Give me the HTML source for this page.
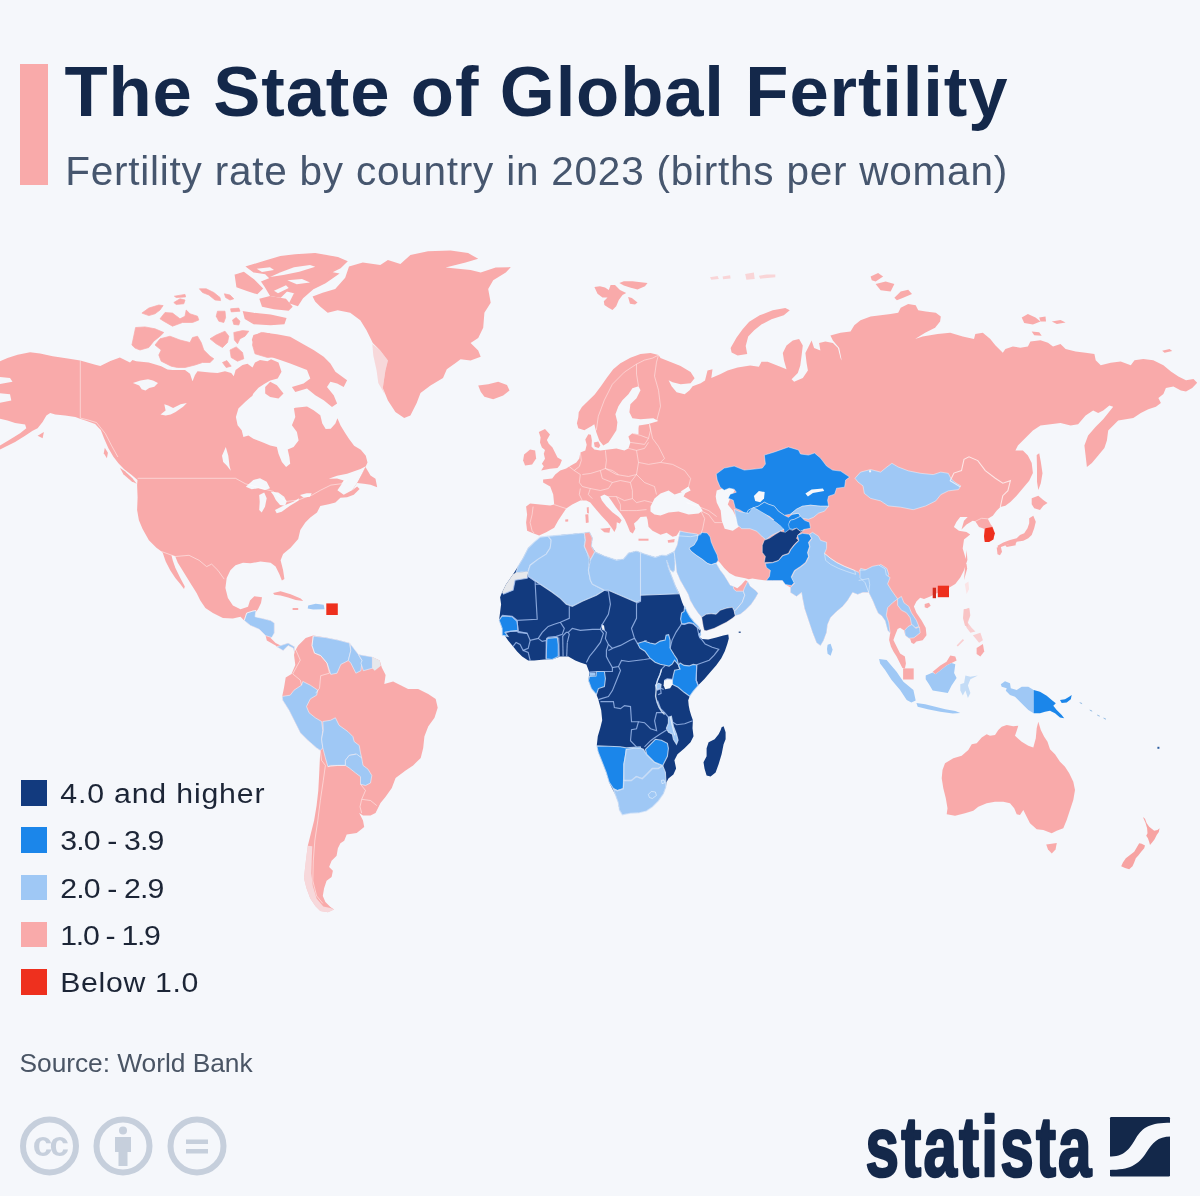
<!DOCTYPE html>
<html lang="en">
<head>
<meta charset="utf-8">
<title>The State of Global Fertility</title>
<style>
html,body{margin:0;padding:0;}
body{width:1200px;height:1196px;background:#f5f7fb;position:relative;overflow:hidden;font-family:"Liberation Sans",sans-serif;}
#bar{position:absolute;left:20px;top:64px;width:28px;height:121px;background:#f9aaaa;}
#map{position:absolute;left:0;top:0;width:1200px;height:1196px;}
.lg{position:absolute;left:21px;width:26px;height:25.5px;}
</style>
</head>
<body>
<svg id="map" viewBox="0 0 1200 1196" width="1200" height="1196">
<path fill="#f9aaaa" d="M-2.5,362.4L7.5,357.9L17.6,354.7L30.1,352.2L40.1,353.4L52.7,356.2L67.7,358.4L80.3,360.4L95.3,364.7L100.3,366L110.4,360.9L119.9,357.4L130,362.5L132.5,360L136.2,361.2L148.8,362.5L161.2,366.2L167.5,369.4L172.5,370L185,370L190,373.8L192.5,381.2L195,375L197.5,371.2L210,372.5L217.5,373.1L225,371.2L231.2,373.1L233.8,376.2L235.6,370L242.5,365L247.5,363.8L252.5,367.5L255,362.5L260,360L267.5,361.2L271,359.3L278.5,362.6L281.5,371.8L277.7,378.5L270.2,380.5L263.8,384.3L258.5,387.7L253.4,393.5L251.8,396.9L293.6,408.6L295.3,407.8L307,406.6L313.6,410.3L320.3,415.3L322.3,423.6L325.7,429L330.7,428.7L335.4,423.6L337.4,418.3L340.7,425.7L345.8,434L349.1,439L354.1,445.7L360.8,449.7L365.8,455.8L367.5,462.4L365.8,466.3L358.8,480.5L352.1,490.5L357.1,486.4L359.6,488.9L353.8,494.7L347.1,497.2L340.4,497.7L335.4,502.6L328.7,504.2L320.3,505.9L317,512.6L310.3,517.6L305.3,522.6L300.3,530L298.2,539L290.6,547.8L283.1,554L280.6,560.3L283.1,570.3L284.4,579.1L281.9,580.4L279.3,574.1L275.6,566.6L270.6,562.8L260.5,561.6L250.5,563.3L243,562.8L235.5,565.3L230.4,570.3L226.7,577.9L225.4,587.9L227.9,597.9L232.9,605.5L240.5,609.2L248,606.7L250,600.4L254.3,596.2L262,597.2L261,602.9L258,609.2L256,611.7L254.3,613L255.5,618L260.5,618L270.6,620.5L274.3,623L274.3,633L270.6,638.1L273.1,640.6L275.6,643.1L280.6,645.6L288.1,643.1L294.4,646.8L294.4,651.9L293.1,648.1L288.1,645.6L283.1,650.6L276.8,646.8L275.6,645.6L266.8,640.6L265.6,635.6L259.3,629.3L250.5,625.5L244.2,620.5L240.5,616.7L232.9,618.5L222.9,618L212.9,613L205.4,608L200.3,600.4L196.6,592.9L190.3,582.9L184,572.8L177.8,562.8L175.3,556.5L171.5,555.3L172.7,560.3L175.3,567.8L180.3,577.9L184.8,586.6L184,589.1L180.3,584.1L175.3,577.9L170.2,570.3L165.7,561.6L162.7,552.8L161.5,551.5L156.4,547.8L148.9,540.2L142.6,528.9L138.9,520.2L137.1,510.1L137.6,497.6L137.1,485.1L137.6,478.8L137.5,480.1L131.7,475.1L124.2,469.3L118.4,463.3L113.4,456.8L108.4,448.2L104.1,438.4L100.8,429.9L95.1,424.1L86.8,420.9L79.3,418.4L75.3,416.9L65.2,415.6L55.2,414.4L50.2,413.1L46.4,415.6L42.6,421.9L37.6,428.2L32.6,430.7L25.1,435.7L15.1,442L5,447L-2.5,450.7L-2.5,447L10,439.4L20.1,433.2L26.3,428.2L25.1,424.4L15.1,423.1L7.5,420.6L-2.5,418.1L-2.5,403.1L11.3,400.6L10,394.3L-2.5,393L-2.5,384.3L12.5,381.8L10,378L-2.5,376.7Z"/>
<path fill="#f5f7fb" d="M251.4,396.6L261.8,394.9L268.5,398.2L275.2,400.9L286.9,404.6L293.9,408.3L295.3,417L291.9,425.3L296.9,432L298.6,440.4L293.6,447.1L287.7,449.6L289.4,457.1L290.2,463.8L286.1,467.1L281.9,462.1L278.5,453.7L276.9,447.1L270.2,445.4L261.8,442L253.4,438.7L248.4,435.4L243.4,437L241.7,430.3L237.6,425.3L235.9,417L238.4,408.6L245.1,401.9Z"/>
<path fill="#f5f7fb" d="M365.8,466.3L360.5,469.1L347.1,473.8L337.1,475.8L328.7,478.8L337.1,478.5L343.7,480.5L340.7,485.5L337.4,490.2L343.7,494.7L352.1,490.2L358.8,480.5Z"/>
<path fill="#f5f7fb" d="M132.9,383L140.5,380.5L148,379.2L153,380.5L158,383L154.3,386.8L149.2,388L145.5,390.5L141.7,389.3L139.2,385.5Z"/>
<path fill="#f5f7fb" d="M160.5,414.4L165.6,410.6L164.3,404.3L168.1,405.6L173.1,408.1L180.6,404.3L186.9,403.1L183.1,406.8L175.6,411.9L170.6,414.4L165.6,415.6Z"/>
<path fill="#f5f7fb" d="M222,455.8L225.8,447L228.3,455.8L229.5,465.8L230.8,470.8L227,465.8L223.2,462Z"/>
<path fill="#f5f7fb" d="M245.8,486.7L253.3,480L260,478.3L266.7,481.7L270,488.3L265,490L258.3,488.3L251.7,489.2Z"/>
<path fill="#f5f7fb" d="M259.2,495L264.2,492.5L266.7,498.3L265,506.7L261.7,512.5L259.2,510L259.7,501.7Z"/>
<path fill="#f5f7fb" d="M270.8,491.7L278.3,492.5L284.2,496.7L286.7,501.7L285,505.8L280,505L275.8,500L273.3,495Z"/>
<path fill="#f5f7fb" d="M275,510L283.3,505.8L293.3,501.7L299.2,498.3L298.3,500.8L290,505.8L281.7,511.7L276.7,513.3Z"/>
<path fill="#f5f7fb" d="M300,495L306.7,493.3L311.7,493.3L310,496.7L303.3,497.5Z"/>
<path fill="#f9aaaa" stroke="#f9aaaa" stroke-width="0.72" d="M131.9,345L135.6,327.5L145,326.9L155,328.8L163.8,332.5L160,336.2L153.8,341.2L148.8,347.5L140,350L135,348.1Z"/>
<path fill="#f9aaaa" stroke="#f9aaaa" stroke-width="0.72" d="M155,345L160,338.8L170,336.2L180,340L190,342.5L192.5,337.5L197.5,336.2L201.2,342.5L203.8,350L210,356.2L213.8,358.8L210,362.5L202.5,362.5L195,365L185,367.5L177.5,367.5L171.2,366.2L161.2,361.2L158.8,355L161.2,350Z"/>
<path fill="#f9aaaa" stroke="#f9aaaa" stroke-width="0.72" d="M141.9,313.1L148.8,308.1L158.8,305L163.1,305.6L160,310L155,313.8L148.8,315.6Z"/>
<path fill="#f9aaaa" stroke="#f9aaaa" stroke-width="0.72" d="M160,318.8L165,312.5L172.5,313.1L180,318.8L185,316.2L186.2,310L190,313.8L197.5,316.2L198.8,320L192.5,322.5L182.5,322.5L172.5,326.2L163.8,321.2Z"/>
<path fill="#f9aaaa" stroke="#f9aaaa" stroke-width="0.72" d="M173.8,302.5L180,298.8L185,300L183.8,303.8L176.2,304.4Z"/>
<path fill="#f9aaaa" stroke="#f9aaaa" stroke-width="0.72" d="M174.4,296.2L185,294.4L185.6,296.9L176.2,297.5Z"/>
<path fill="#f9aaaa" stroke="#f9aaaa" stroke-width="0.72" d="M199.4,288.8L206.2,288.8L213.8,292.5L220,297.5L220.6,300.6L215,300L208.8,295L202.5,292.5Z"/>
<path fill="#f9aaaa" stroke="#f9aaaa" stroke-width="0.72" d="M224.4,293.8L230,295L233.8,298.8L230,300L225.6,297.5Z"/>
<path fill="#f9aaaa" stroke="#f9aaaa" stroke-width="0.72" d="M217.5,311.2L225,311.2L225.6,317.5L223.8,322.5L218.8,321.2L216.2,316.2Z"/>
<path fill="#f9aaaa" stroke="#f9aaaa" stroke-width="0.72" d="M232.5,320L236.2,317.5L240,321.2L238.8,325L233.8,324.4Z"/>
<path fill="#f9aaaa" stroke="#f9aaaa" stroke-width="0.72" d="M230.6,308.8L238.8,308.1L240,311.2L231.2,311.9Z"/>
<path fill="#f9aaaa" stroke="#f9aaaa" stroke-width="0.72" d="M210,338.8L216.2,335L225,331.2L228.8,336.2L227.5,342.5L222.5,347.5L216.2,343.8Z"/>
<path fill="#f9aaaa" stroke="#f9aaaa" stroke-width="0.72" d="M233.8,332.5L242.5,330.6L248.8,331.2L245,336.2L240,338.8L237.5,343.8L234.4,340Z"/>
<path fill="#f9aaaa" stroke="#f9aaaa" stroke-width="0.72" d="M230,350L236.2,346.9L242.5,352.5L243.8,358.8L237.5,361.2L231.2,357.5Z"/>
<path fill="#f9aaaa" stroke="#f9aaaa" stroke-width="0.72" d="M222.5,362.5L226.9,360.6L231.2,366.2L226.2,367.5Z"/>
<path fill="#f9aaaa" stroke="#f9aaaa" stroke-width="0.72" d="M253.8,336.2L261.2,332.5L270,333.8L267.5,340L265,345L268.8,350L273.8,355L280,356.2L267.5,357.5L255,353.8L252.5,345Z"/>
<path fill="#f9aaaa" stroke="#f9aaaa" stroke-width="1.5" d="M235.4,275.1L243.7,272.6L253.8,280.1L262.1,288.5L257.1,293.5L247.1,290.2L237.1,286.8Z"/>
<path fill="#f9aaaa" stroke="#f9aaaa" stroke-width="1.5" d="M243.7,311.9L253.8,313.6L270.5,315.3L285.6,318.6L283.9,323.6L270.5,324.4L253.8,323.6L245.4,318.6Z"/>
<path fill="#f9aaaa" stroke="#f9aaaa" stroke-width="1.5" d="M247.1,266.8L263.8,261.7L280.5,256.7L295.1,255.1L315.1,253.8L337.7,257.6L346.5,261.4L340.2,267.6L330.2,272.6L337.7,273.9L325.2,282.7L312.6,288.9L302.6,297.7L297.6,305.3L290,302.7L295.1,292.7L285,290.2L287.2,290.2L280.5,296.9L270.5,295.2L265.5,286.8L262.1,281.8L270.5,278.5L265.5,273.4L253.8,271.8Z"/>
<path fill="#f9aaaa" d="M253.4,335L263.5,332.5L276.9,334.2L290.2,336.7L300.3,342.5L313.6,350.1L323.7,356.8L330.4,363.4L335.4,371.8L347.1,380.2L343.7,386.9L337.1,383.5L330.4,381.8L327,386.9L333.7,395.2L337.1,403.6L332,406.9L323.7,400.2L315.3,395.2L307,388.5L295.3,391.9L291.9,386.9L303.6,383.5L310.3,378.5L307,370.1L298.6,366.8L290.2,363.4L280.2,360.1L270.2,356.8L261.8,351.7L255.1,346.7L251.8,340Z"/>
<path fill="#f9aaaa" d="M265.2,386.9L270.2,381.8L276.9,385.2L283.5,393.5L278.5,398.6L270.2,396.9L265.2,393.5Z"/>
<path fill="#f9aaaa" d="M365.5,467.1L370.5,475.5L375.5,478.8L377.2,487.2L370.5,484.7L363.8,483.8L357.1,483L362.1,473.8Z"/>
<path fill="#f9aaaa" d="M312.6,296.5L322.6,292.7L335.2,288.9L345.2,277.7L349,266.4L362.8,262.6L380.3,265.1L387.9,260.1L400.4,263.9L410.4,255.1L428,251.3L450.6,250.6L468.1,253.1L478.2,258.8L465.6,262.6L445.6,267.6L470.6,270.1L480.7,272.6L495.7,267.6L510.8,267.1L505.8,272.6L493.2,280.2L488.2,288.9L490.7,302.7L484.4,312.8L483.2,327.8L478.2,337.9L470.6,342.9L478.2,350.4L480.7,356.7L470.6,360.4L460.6,359.2L455.6,362.9L446.8,369.2L443,378L430.5,385.5L420.5,393L416.7,403.1L410.4,415.6L404.2,418.1L395.4,411.9L387.9,400.6L382.8,388L385.4,370.5L387.9,360.4L380.3,350.4L372.8,342.9L366.5,330.3L360.3,320.3L350.2,312.8L337.7,310.3L327.7,312.8L320.1,306.5L315.1,301.5Z"/>
<path fill="#f9aaaa" d="M478.2,385.5L488.2,384.3L498.2,381.8L507,385L509.5,390.5L503.2,395.6L493.2,399.3L484.4,396.8L480.7,391.8Z"/>
<path fill="#f9aaaa" d="M119.9,467.8L124.9,471.3L132.4,478.3L136.7,483.8L131.4,481.3L123.4,474.3Z"/>
<path fill="#f9aaaa" d="M104.8,447.7L107.9,452.7L106.9,458.3L103.8,453.2Z"/>
<path fill="#f9aaaa" d="M37.6,435.7L43.9,431.9L42.6,438.2Z"/>
<path fill="#f9aaaa" d="M273.1,592.9L280.6,591.2L290.6,594.2L300.7,598.4L303.2,600.9L295.7,599.9L288.1,597.4L280.6,595.4L274.3,594.7Z"/>
<path fill="#9fc8f5" d="M308.2,605.5L315.7,603.7L323.7,604.7L324.5,609.2L313.2,609.5L307.7,608.5Z"/>
<path fill="#f9aaaa" d="M292.6,608L298.2,608L298.2,610L292.6,610Z"/>
<path fill="#ee301e" d="M326.3,603.4L337.8,603.4L337.8,615L326.3,615Z"/>
<path fill="#9fc8f5" stroke="#eef2fa" stroke-width="0.6" d="M244.2,620.5L246.7,613L253,611L256,610.5L255,616.7L260.5,618L270.6,620.5L274.3,623L274.3,633L271.8,637.6L265.6,635.6L259.3,629.3L250.5,625.5Z"/>
<path fill="#9fc8f5" stroke="#eef2fa" stroke-width="0.6" d="M276.8,646.8L280.6,645.6L288.1,643.1L294.4,646.8L294.4,651.9L293.1,648.1L288.1,645.6L283.1,650.6Z"/>
<path fill="#f9aaaa" d="M294.4,651.9L298.2,645.6L305.7,638.1L313.2,635.6L325.8,637.6L338.3,640.1L349.6,643.1L358.4,654.4L372.2,656.9L379.7,660.6L381.8,667.6L385.6,675.1L384.3,683.9L393.1,681.4L400.6,685.2L408.1,688.9L418.2,688.9L428.2,693.9L435.7,698.9L437.7,707.7L434.5,717.8L428.2,726.5L424.4,736.6L423.2,747.9L420.7,757.9L413.1,765.4L405.6,770.4L395.6,778L391.8,788L385.6,796.8L380.5,803L375.5,813.1L370.5,815.6L363,815.6L359.2,813.1L363,820.6L364.2,826.9L356.7,833.1L346.7,834.4L344.2,840.7L340.4,843.2L337.9,848.2L336.6,855.7L331.6,860.7L329.1,867L332.9,870.8L331.6,877L326.6,880.8L324.1,888.3L322.8,895.9L325.4,902.1L330.4,907.1L334.1,909.6L327.9,912.2L320.3,910.9L315.3,905.9L310.3,898.4L306.5,888.3L304,878.3L305.3,865.8L306.5,855.7L307.8,845.7L310.3,835.7L314.1,820.6L316.6,805.6L318.3,790.5L319.1,775.5L319.8,760.4L320.3,750.4L316.6,747.9L307.8,740.3L300.3,732.8L295.3,722.8L289,710.2L282.7,700.2L282.2,696.4L284,687.7L285.7,677.6L291.5,673.9L295.3,665.1L294,655.1L295.3,648.8Z"/>
<path fill="#9fc8f5" stroke="#eef2fa" stroke-width="0.6" d="M313.2,636.1L325.8,637.6L338.3,640.1L349.6,643.1L350.8,650.6L348.3,660.6L340.8,664.4L337,673.2L330.8,674.4L327,663.1L320.7,655.6L314.5,653.1L312,645.6Z"/>
<path fill="#9fc8f5" stroke="#eef2fa" stroke-width="0.6" d="M350.1,643.6L358.4,654.4L362.1,660.6L360.9,670.7L355.9,673.2L350.8,663.1L348.3,660.6L350.8,650.6Z"/>
<path fill="#9fc8f5" stroke="#eef2fa" stroke-width="0.6" d="M358.6,654.6L372.4,656.9L372.4,668.2L363.4,670.7L360.9,663.1L362.1,660.6Z"/>
<path fill="#e6e8ec" d="M372.4,656.9L379.7,660.6L380.9,665.7L374.7,670.7L372.4,668.2Z"/>
<path fill="#9fc8f5" stroke="#eef2fa" stroke-width="0.6" d="M282.2,696.4L290.2,695.2L294,690.2L301.5,685.2L302.8,681.4L310.3,685.2L317.8,690.2L316.6,695.2L310.3,698.9L306.5,706.5L309,712.7L315.3,717.8L321.6,721.5L322.8,730.3L321.6,739.1L322.8,747.9L320.3,750.4L316.6,747.9L307.8,740.3L300.3,732.8L295.3,722.8L289,710.2L282.7,700.2Z"/>
<path fill="#9fc8f5" stroke="#eef2fa" stroke-width="0.6" d="M322.8,721.5L330.4,720.3L335.4,717.8L339.1,725.3L347.9,731.6L352.9,736.6L354.2,741.6L359.2,745.4L360.5,752.9L361.7,757.9L355.5,754.1L349.2,755.4L345.4,760.4L345.4,765.4L337.9,765.4L330.4,765.4L327.9,766.7L325.4,757.9L322.8,747.9L321.6,739.1L323.3,730.3Z"/>
<path fill="#9fc8f5" stroke="#eef2fa" stroke-width="0.6" d="M345.4,760.4L349.2,755.4L356.7,754.1L361.7,757.9L363,765.4L368,769.2L371.8,775.5L370.5,783L365.5,785.5L360.5,784.2L360.5,776.7L355.5,772.9L349.2,767.9L345.4,765.4Z"/>
<path fill="rgba(245,247,251,0.6)" d="M304,878.3L305.3,865.8L306.5,855.7L307.8,845.7L312.3,846.2L311.8,858.2L311.3,873.3L312.8,885.8L316.6,898.4L323.3,906.4L330.4,907.9L334.1,909.6L327.9,912.2L320.3,910.9L315.3,905.9L310.3,898.4L306.5,888.3Z"/>
<path fill="rgba(249,170,170,0.4)" d="M372.3,344.1L380.3,350.4L387.9,360.4L385.4,370.5L382.8,388L384.8,394.3L378.3,383L376.6,370.5L373.3,355.4Z"/>
<path fill="#f9aaaa" d="M259.3,298.7L270,296L286,298.7L292.7,306.7L288.7,310.7L274,309.3L262,306.7Z"/>
<path fill="#f5f7fb" d="M294,267.3L310,265.1L315.3,266.7L299.3,271.7L283.3,274.9L270,277.1L280.7,272.3Z"/>
<path fill="#f5f7fb" d="M287.3,280.3L302,278.9L310,282.4L296.7,284.3Z"/>
<path fill="#f5f7fb" d="M256.7,268.7L270,267.3L274,270L262,272Z"/>
<path fill="#f5f7fb" d="M274,290.7L286,285.3L288.7,288L278,293.3Z"/>
<path fill="#f9aaaa" d="M539.1,535.5L533.1,533.3L527.1,530.7L526.1,522.6L527.1,514.6L526.1,506.6L530.1,503.6L540.1,504.6L550.2,505.6L554.2,504.6L553.2,494.5L550.2,486.5L543.1,482.5L543.1,479.5L552.2,478.5L555.2,474.5L560.2,470.5L566.2,468.5L569.2,466.5L576.3,462.4L579.3,458.4L580.3,452.4L585.3,450.4L586.7,444.8L585.3,439.4L588.3,434.3L590.9,434.7L591.9,440.4L591.5,446.4L594.3,449.6L600.3,450.4L608.4,449.4L616.4,448.4L624.4,450.4L628.4,448.4L630.4,442.4L628.4,436.4L632.4,433.3L638.5,434.3L638.5,428.3L638.9,425.5L648.5,423.9L658.3,420.9L653.3,418.3L640.5,419.3L632.4,418.3L629.4,412.3L630.4,404.2L636.5,398.2L640.5,390.2L638.5,386.2L632.4,388.2L628.4,394.2L622.4,400.2L618.4,406.3L615.4,414.3L617.4,422.3L616.4,430.3L612.4,436.4L608.4,442.4L603.3,445.4L599.3,440.4L596.3,432.3L594.3,424.3L591.3,426.3L584.3,430.3L578.3,428.3L576.9,423.3L578.3,417.3L578.7,412.3L581.9,407.1L588.3,400.8L594.7,394.6L600.9,386.2L607,377.4L613.2,369.3L620.4,363.3L630.4,357.7L640.5,354.1L650.5,353.1L658.5,355.1L660.5,358.1L670.6,362.1L680.6,366.1L690.6,372.1L694.6,378.2L690.6,383.2L680.6,384.2L672.6,382.2L668.6,380.2L671.6,386.2L676.6,392.2L684.6,394.2L689.6,390.2L692.6,386.2L700.7,383.2L705,380.5L707.5,370.5L712.5,369.2L711.3,378L720.1,374.2L727.6,370.5L737.6,367.5L750.2,365.5L758.9,366.7L761.5,361.7L767.7,361.7L780.3,366.7L786.5,369.2L784,360.4L782.8,352.9L786.5,345.4L792.8,340.4L799.1,339.1L802.8,345.4L801.6,355.4L800.3,365.5L797.8,373L791.6,379.2L794.1,381.8L802.8,378L807.9,370.5L806.6,362.9L805.4,352.9L807.9,347.9L811.6,340.4L814.1,347.9L820.4,350.4L819.1,342.9L825.4,341.6L832.9,342.9L838,347.9L840.5,357.9L841.7,360.4L839.2,347.9L832.9,340.4L830.4,335.4L840.5,332.8L850.5,331.6L854.3,325.3L860.5,320.3L870.6,316.5L880.6,315.3L890.6,314L898.2,312.8L900.7,307.8L908.2,304L915.7,305.3L918.2,310.3L925.8,311.5L935.8,312.8L940.8,316.5L940.1,321.4L935.1,327.7L925.1,332.7L915.1,338.9L907.5,341.5L922.6,336.4L937.6,333.9L950.2,332.7L962.7,336.4L974,338.9L975.3,333.9L982.8,332.7L990.3,338.9L995.3,345.2L1002.8,352.7L1005.4,349L1012.9,346.5L1020.4,347.7L1027.9,346.5L1030.4,341.5L1040.5,340.2L1048,342.7L1053,346.5L1060.5,344L1065.6,349L1075.6,351.5L1085.6,352.7L1094.4,354L1095.7,360.3L1100.7,365.3L1110.7,362.8L1120.7,361.5L1130.8,365.3L1134.5,360.3L1143.3,359L1153.3,360.3L1163.4,365.3L1170.9,371.6L1178.4,376.6L1186,380.3L1193.5,379.1L1197.2,382.8L1192.2,387.9L1186,391.6L1180.9,390.4L1173.4,386.6L1165.9,387.9L1163.4,394.1L1158.4,397.9L1160.9,402.9L1155.9,406.7L1148.3,409.2L1140.8,412.9L1133.3,418L1125.8,419.2L1118.2,420.5L1113.2,425.5L1108.2,430.5L1106.9,440.5L1104.4,448.1L1098.2,455.6L1091.9,463.1L1086.9,466.9L1085.6,455.6L1084.4,445.6L1088.1,435.5L1095.7,426.7L1103.2,419.2L1108.2,412.9L1113.2,406.7L1109.4,405.4L1103.2,410.4L1098.2,412.9L1093.1,410.4L1085.6,415.5L1078.1,424.2L1070.6,425.5L1060.5,423L1050.5,424.2L1040.5,425.5L1032.9,430.5L1025.4,438L1017.9,445.6L1015.4,450.6L1022.9,450.6L1027.9,455.6L1031.7,463.1L1032.9,473.1L1029.2,480.7L1022.9,488.2L1016.6,495.7L1010.4,502L1005.4,505.8L1000.3,507L996.6,510.8L992.8,515.8L987.8,518.8L990.8,524.6L992.8,527.1L994.8,533.3L993.3,539.6L989,542.1L984.8,542.1L984,535.9L984,528.8L979,527.1L975.3,521.3L972.7,520.8L966.5,524.6L961.5,529.6L964,520.8L967.7,517L960.2,517L956.4,522.1L953.9,527.1L958.9,530.8L966.5,532.1L970.2,534.6L964,539.6L962.7,548.4L965.7,558.4L967.2,568.5L964,580L966.6,550L967.4,560.1L964.1,570.1L960.3,577.6L955.3,583.9L949,587.7L935.3,593.9L930.2,596.4L924,598.9L920.2,597.7L916.4,601.5L913.9,606.5L916.4,612.7L921.5,620.3L925.7,627.8L926.5,635.3L922.7,640.3L916.4,641.6L913.9,644.1L911.4,642.8L910.2,639.1L906.4,636.6L905.2,635.3L903.9,630.3L900.1,627.8L897.6,629L895.1,635.3L893.4,640.1L896.6,646.6L900.1,653.4L904.9,656.6L905.9,663.4L904.9,668.4L902.4,667.9L900.1,663.4L896.6,656.6L893.4,651.6L890.9,646.6L889.1,640.1L890.1,633.3L887.6,630.3L885.1,620.8L881.6,615.8L878.1,613.2L875.6,607.7L872.5,600.2L868.8,592.7L862.7,592.5L857.7,594.5L852.6,592.5L847.6,600.5L842.6,606.6L836.6,611.6L830.6,617.6L827.6,624.6L826.6,632.6L823.5,640.7L820.5,645.7L816.5,642.7L812.5,632.6L808.5,620.6L804.5,608.6L802.5,598.5L801.5,592.5L796.5,596.5L790.4,592.5L790.4,587.5L785.4,584.5L782.4,580.5L772.4,580.5L766.4,580.5L758.3,579.5L752.3,578.5L748.8,579.2L745.3,578.2L740.3,577.2L735.3,576.2L729.3,573.1L724.2,568.1L720.2,563.1L718.2,561.1L716.2,563.1L720.2,570.1L724.2,575.2L727.3,580.2L730.3,585.2L733.3,586.2L737.3,588.2L741.3,584.7L745.3,580.2L747.8,581.2L750.3,586.2L755.4,590.2L758.2,593.2L755.4,598.2L751.3,604.2L745.3,610.3L740.3,614.3L735.3,615.8L732.3,618.3L726.3,622.3L720.2,625.3L714.2,628.3L706.2,630.8L704.2,630.3L703.2,626.3L701.7,617.3L698.2,613.3L694.1,607.3L690.1,600.2L688.1,594.2L684.1,587.2L680.1,580.2L676.6,572.1L675.9,565.1L675.1,559.1L674.1,551.6L677.1,545.1L678.1,540L679.1,535L680.1,530L676.6,535.7L672.6,536.7L666.6,532.7L660.5,534.7L652.5,530.7L648.5,526.7L647.5,519.6L646.5,516.6L640.5,517L637.5,520.6L634,523.6L635.3,528.7L632.8,533.5L630,531.7L627.6,525.7L624.8,519.6L620.8,513.6L616,507.6L611.6,501L608.4,496.6L604.3,494.5L600.3,496.6L601.9,500.6L606.4,506.2L612.4,512.2L618.8,517L621.6,520.2L619.8,523.4L616.8,522.2L616.4,527.7L614.4,531.9L611.6,527.7L607.6,522.2L601.9,516.2L596.7,510.2L592.7,505.6L590.3,502.6L586.3,500.6L580.3,500.6L572.2,504.6L566.2,508.6L562.2,514.6L558.2,520.6L554.2,527.7L546.2,532.3Z"/>
<path fill="#f5f7fb" d="M650.5,506.6L654.5,498.6L660.5,493.5L668.6,490.5L674.6,494.5L680.6,492.5L686.6,490.5L683.6,496.6L690.6,500.6L698.7,504.6L702.7,510.6L698.7,513.6L688.6,514.6L678.6,511.6L668.6,512.6L660.5,515.6L654.5,514.6L650.5,511.6Z"/>
<path fill="#f5f7fb" d="M680.6,491.5L688.6,486.5L690.6,490.5L684.6,493.5Z"/>
<path fill="#f5f7fb" d="M716.7,490.5L722.7,488.5L730.8,487.5L734.8,490.5L730.8,496.6L727.8,504.6L732.8,510.6L736.8,518.6L738.8,526.7L732.8,530.7L724.7,528.7L721.7,520.6L720.7,510.6L716.7,502.6L715.7,496.6Z"/>
<path fill="#f9aaaa" d="M538.8,431.9L545,429L550,434.4L546.9,440L548.8,443.8L552.5,447.5L555,452.5L557.5,457.5L561.9,460L560,465L557.5,468.1L550,468.8L541.2,470.6L543.8,466.2L541.9,463.8L545,458.8L543.8,453.8L545,450L541.9,447.5L540,442.5L540.6,437.5Z"/>
<path fill="#f9aaaa" d="M524.1,454.4L530.1,449.4L535.1,450.4L536.1,458.4L532.1,464.4L525.1,465.5L523.1,460.4Z"/>
<path fill="#f9aaaa" d="M585.3,514.6L588.3,514.2L588.7,522.6L585.9,523Z"/>
<path fill="#f9aaaa" d="M586.7,507.6L588.7,507L588.9,513.6L587.1,513Z"/>
<path fill="#f9aaaa" d="M600.3,528.7L610.4,527.7L609.4,532.7L604.3,532.3Z"/>
<path fill="#f9aaaa" d="M638.5,538.7L648.5,538.7L648.5,540.7L638.5,540.7Z"/>
<path fill="#f9aaaa" d="M667.6,540.3L674.6,539.1L674.2,542.3L668.2,542.7Z"/>
<path fill="#f9aaaa" d="M565.2,519.6L568.2,519.2L568.2,521.6L565.4,521.8Z"/>
<path fill="#f9aaaa" d="M730.6,347.9L736.6,337.4L742.6,329.3L749.2,321.8L759.7,315.3L772.7,310.3L785.3,308L789.8,310.3L783.8,315.3L771.5,319.3L761.7,324.3L754.2,330.3L748.2,336.4L745.7,345.9L747.2,353.9L737.6,355.4L731.6,352.4Z"/>
<path fill="#f9aaaa" d="M870.6,276.4L878.1,273.1L883.1,276.4L875.6,281.4L871.8,280.2Z"/>
<path fill="#f9aaaa" d="M875.6,283.9L885.6,281.4L894.4,283.9L890.6,291.5L880.6,290.2Z"/>
<path fill="#f9aaaa" d="M894.4,297.7L900.7,291.5L908.2,289.7L912,294L903.2,297.7L896.9,300.2Z"/>
<path fill="#f9d5d7" d="M710,277.2L717.6,275.9L718.8,278.9L711.3,279.7Z"/>
<path fill="#f9d5d7" d="M722.6,276.4L730.1,275.2L730.6,278.4L723.1,279.2Z"/>
<path fill="#f9d5d7" d="M745.2,273.9L753.9,272.6L754.7,278.9L746.4,279.7Z"/>
<path fill="#f9d5d7" d="M758.9,275.7L766.5,274.6L775.3,274.6L775.3,277.2L760.2,278.7Z"/>
<path fill="#f9aaaa" d="M1021.7,317.6L1027.9,313.9L1035.5,317.6L1040.5,321.4L1032.9,324.6L1024.2,323.1Z"/>
<path fill="#f9aaaa" d="M1039.2,317.6L1045.5,316.4L1046,321.4L1040.5,321.4Z"/>
<path fill="#f9aaaa" d="M1051.8,321.4L1060.5,320.1L1065.6,322.6L1056.8,323.9Z"/>
<path fill="#f9aaaa" d="M1031.7,331.4L1039.2,332.2L1041.7,335.7L1034.2,335.2Z"/>
<path fill="#f9aaaa" d="M1162.1,350.7L1169.6,349L1172.2,351L1164.6,352.7Z"/>
<path fill="#ee301e" d="M985.3,528.3L992.3,527.1L994.8,533.3L993.3,539.6L989,542.1L984.8,542.1L984,535.9Z"/>
<path fill="#f9aaaa" d="M593.9,442.4L598.3,441.6L600.3,445.4L598.7,448L594.7,446.8Z"/>
<path fill="#f9aaaa" d="M594.4,286.9L600,286.2L605,287.5L608.8,290L610.6,285L615,285L620,290L626.2,293.1L622.5,295L618.8,300L616.2,306.2L612.5,310L608.1,307.5L604.4,305L603.8,301.2L607.5,297.5L602.5,297.5L597.5,293.8Z"/>
<path fill="#f9aaaa" d="M619.4,283.1L623.8,281.2L632.5,281.2L638.8,281.9L647.5,283.1L645,286.2L637.5,289.4L630,287.5L623.8,285.6Z"/>
<path fill="#f9aaaa" d="M628.1,296.9L631.9,298.1L637.5,302.5L635,304.4L630,303.8Z"/>
<path fill="#f9aaaa" d="M1029.2,518.3L1033.3,515.8L1035.8,521.7L1034.2,528.3L1031.7,535L1028.3,538.3L1023.3,540.8L1016.7,541.7L1015,545L1008.3,544.2L1001.7,546.7L998.3,548.3L997.5,545.8L1003.3,542.5L1010,540L1016.7,538.3L1020,535L1024.2,533.3L1027.5,528.3L1029.2,523.3Z"/>
<path fill="#f9aaaa" d="M1031.7,498.3L1038.3,495.8L1043.3,500L1047.5,503L1043.3,505.8L1040,510L1034.2,508.3L1031.7,504.2Z"/>
<path fill="#f9aaaa" d="M996.7,547.5L1000.8,546.7L1002,551.7L1000,555.3L997.5,554.2Z"/>
<path fill="#f9aaaa" d="M1005,544.7L1015,543L1015.8,545.3L1006.7,547Z"/>
<path fill="#f9aaaa" d="M1036.7,455L1039.2,453.3L1040.8,461.7L1042.5,473.3L1040.8,483.3L1038.3,490L1037,481.7L1037,468.3Z"/>
<path fill="#123a7e" d="M540.2,538.5L548.2,536.5L560.3,535.1L572.3,534L584.3,533L589.4,532L592.4,538.1L591.4,546.1L595.4,552.1L604.4,556.1L616.5,560.1L623.5,559.1L628.5,553.1L636.5,551.1L644.5,554.1L654.6,557.1L656,557.1L662,555.1L666.1,555.6L670.1,553.6L674.1,551.6L675.1,559.1L674.6,570.1L673.1,572.1L670.1,569.6L668.1,564.1L666.6,560.1L668.6,568.1L672.1,577.2L675.6,586.2L679.1,593.2L682.1,602.2L685.1,609.3L684.6,606L687.2,612L690.2,617.1L694.2,622.1L698.2,626.1L700.7,630.1L700.2,634.1L699.2,637.1L702.2,639.1L708.2,639.6L716.3,637.6L723.3,635.6L728.3,634.6L728.8,638.6L727.3,644.1L724.8,651.2L721.3,658.2L716.3,665.2L710.2,672.2L704.2,679.3L698.2,685.3L693.2,691.3L689.7,696.3L688.2,700.3L688.7,705.4L689.7,710.4L691.2,715.4L692.9,720.2L692.5,728.2L693.5,736.3L690.5,742.3L684.5,748.3L677.5,754.3L674.4,760.3L676.1,768.4L673.4,774.4L668.4,778.4L666.4,782.4L666,786.4L663.4,793.4L658.4,800.5L652.4,806.5L646.4,810.5L638.3,812.5L630.3,812.9L622.3,814.5L619.3,809.5L618.3,802.5L615.3,794.4L612.2,788.4L609.2,782.4L606.2,772.4L602.2,762.3L598.2,752.3L596.8,745.3L597.8,736.3L600.2,728.2L602.2,720.2L601.2,710.2L598.2,699.1L596.4,694.6L591.4,688.6L588.4,680.5L589.4,672.5L586.4,664.5L580.3,662.5L575.3,660.5L568.3,656.5L560.3,656.5L552.2,659.5L544.2,659.5L534.2,660.5L528.2,660.5L522.1,656.5L517.1,651.4L513.1,646.4L508.1,640.4L504.1,634.4L502.1,628.4L499.1,620.3L500.1,612.3L501.1,604.3L500.1,597.3L502.1,592.2L506.1,584.2L513.1,574.2L518.1,566.2L523.1,558.1L528.2,548.1L534.2,542.5Z"/>
<path fill="#9fc8f5" stroke="rgba(215,230,250,0.8)" stroke-width="1.08" d="M540.2,537.1L548.2,536.1L551.2,540.1L550.2,548.1L546.2,554.1L538.2,559.1L530.2,565.2L528.2,571.2L520.1,572.2L516.1,572.6L518.1,566.2L523.1,558.1L528.2,548.1L534.2,542.1Z"/>
<path fill="#e6e8ec" d="M516.1,572.6L528.2,571.8L527.2,578.2L515.1,580.2L513.1,590.2L503.1,594.2L502.1,592.2L506.1,584.2L513.1,574.2Z"/>
<path fill="#9fc8f5" stroke="rgba(215,230,250,0.8)" stroke-width="1.08" d="M551.2,540.1L548.2,536.1L560.3,535.1L572.3,534L584.3,533L585.4,540.1L584.3,546.1L587.4,553.1L589.4,560.1L588.4,570.2L590.4,580.2L592.4,584.2L604.4,590.2L596.4,595.3L582.3,601.3L572.3,606.3L566.3,604.3L560.3,598.3L552.2,592.2L540.2,584.2L528.2,576.2L528.2,571.2L530.2,565.2L538.2,559.1L546.2,554.1L550.2,548.1Z"/>
<path fill="#f9aaaa" stroke="rgba(215,230,250,0.8)" stroke-width="1.08" d="M584.3,533L589.4,532L592.4,538.1L591.4,546.1L594.8,552.1L590.4,560.1L587.4,553.1L584.3,546.1L585.4,540.1Z"/>
<path fill="#9fc8f5" stroke="rgba(215,230,250,0.8)" stroke-width="1.08" d="M594.8,552.1L604.4,556.1L616.5,560.1L623.5,559.1L628.5,553.1L636.5,551.1L640.5,552.5L640.5,600.3L636.5,602.3L608.4,590.2L604.4,590.2L592.4,584.2L590.4,580.2L588.4,570.2L590.4,560.1Z"/>
<path fill="#9fc8f5" stroke="rgba(215,230,250,0.8)" stroke-width="1.08" d="M640.5,552.5L644.5,554.1L654.6,557.1L656,557.1L662,555.1L666.1,555.6L670.1,553.6L674.1,551.6L675.1,559.1L674.6,570.1L673.1,572.1L670.1,569.6L668.1,564.1L666.6,560.1L668.6,568.1L672.1,577.2L675.6,586.2L679.1,593.7L640.5,595.3Z"/>
<path fill="#1b86ea" stroke="rgba(215,230,250,0.8)" stroke-width="1.08" d="M499.1,620.3L502.1,615.9L512.1,616.7L517.1,621.3L518.1,630.4L510.1,631.4L505.1,632.4L508.1,636.4L502.1,635.4L502.1,628.4Z"/>
<path fill="#1b86ea" stroke="rgba(215,230,250,0.8)" stroke-width="1.08" d="M546.8,638.4L557.3,637.4L558.3,644.4L558.3,656.5L552.2,659.5L546.2,658.9Z"/>
<path fill="#1b86ea" stroke="rgba(215,230,250,0.8)" stroke-width="1.08" d="M637.5,643.4L640.5,642.4L646.6,640.8L644,641.1L650,643.1L655.1,644.1L660.1,641.1L665.1,640.1L666.1,635.1L668.6,634.6L670.1,640.1L670.1,648.2L674.1,654.7L677.1,659.2L679.6,669.2L678.6,665.2L674.6,660.2L672.1,664.2L669.1,666.2L665.1,665.2L660.1,664.2L655.1,662.2L650,658.2L645,651.2L640,648.2Z"/>
<path fill="#1b86ea" stroke="rgba(215,230,250,0.8)" stroke-width="1.08" d="M681.6,613L684.1,611.5L684.6,606L687.2,612L690.2,617.1L694.2,622.1L698.2,626.1L700.2,630.1L697.2,627.1L693.2,623.6L689.2,622.6L684.1,624.1L681.6,623.6L680.6,619.1Z"/>
<path fill="#9fc8f5" d="M698.2,634.1L700.7,632.1L701.2,635.1L699.2,637.6Z"/>
<path fill="#1b86ea" stroke="rgba(215,230,250,0.8)" stroke-width="1.08" d="M673.1,676.3L674.6,670.2L680.1,669.2L678.6,665.2L680.1,663L684.1,665.4L689.2,665.9L693.2,664.4L696.7,664.9L696.2,680.3L698.2,685.5L693.2,691.3L689.7,696.3L684.1,692.3L678.1,687.3L672.1,684.3L672.6,679.3Z"/>
<path fill="#1b86ea" stroke="rgba(215,230,250,0.8)" stroke-width="1.08" d="M589.4,676.5L596,676.1L596.4,671.5L604.4,671.5L605.4,678.5L604.4,686.6L598.4,688.6L596.4,694.6L591.4,688.6L588.4,680.5Z"/>
<path fill="#9fc8f5" d="M589.4,672.5L595.4,672.5L595.4,675.7L589.4,676.1Z"/>
<path fill="#f5f7fb" d="M601.4,624.3L604,625.4L604.8,630.4L602.4,630Z"/>
<path fill="#f5f7fb" d="M664.1,680.3L667.1,678.8L672.1,679.3L672.6,684.3L670.1,688.3L665.1,689.3L663.6,685.3Z"/>
<path fill="#9fc8f5" stroke="rgba(215,230,250,0.8)" stroke-width="1.08" d="M655.6,685.3L658.6,683.3L661.1,684.3L660.6,688.3L657.1,689.8Z"/>
<path fill="#1b86ea" stroke="rgba(215,230,250,0.8)" stroke-width="1.08" d="M596.8,745.9L608.2,746.3L620.3,746.7L626.3,747.9L640.3,746.9L640.7,748.3L626.3,749.5L625.3,756.3L623.9,764.3L623.3,788.4L617.3,790.4L613.2,788.4L609.2,782.4L606.2,772.4L602.2,762.3L598.2,752.3Z"/>
<path fill="#9fc8f5" stroke="rgba(215,230,250,0.8)" stroke-width="1.08" d="M626.3,749.5L634.3,748.3L640.7,748.3L643.3,749.3L646.4,754.3L650.4,758.3L654.4,762.3L662.4,765.4L658.4,768.4L652.4,768.4L646.4,774.4L642.3,778.4L636.3,776.4L631.3,780.4L626.3,780.4L623.9,780.4L623.9,764.3L625.3,756.3Z"/>
<path fill="#9fc8f5" stroke="rgba(215,230,250,0.8)" stroke-width="1.08" d="M613.2,788.8L617.3,790.8L623.3,788.8L623.9,780.4L626.3,780.8L631.3,780.8L636.3,776.8L642.3,778.8L646.4,774.8L652.4,768.8L658.4,768.8L662.8,765.8L665.4,772.4L666,782.4L666,786.8L663.4,793.8L658.4,800.9L652.4,806.9L646.4,810.9L638.3,812.9L630.3,813.3L622.3,814.9L619.3,809.9L618.3,802.9L615.3,794.8Z"/>
<path fill="#1b86ea" stroke="rgba(215,230,250,0.8)" stroke-width="1.08" d="M645.4,749.3L649.4,745.3L655.4,739.3L661.4,740.3L667.4,743.3L668.4,748.3L667.4,756.3L662.8,765.4L654.8,762.3L650.8,758.3L646.8,754.3Z"/>
<path fill="#9fc8f5" stroke="rgba(215,230,250,0.8)" stroke-width="1.08" d="M668.4,717.2L671.4,716.2L673.4,726.2L676.5,734.2L678.1,740.3L676.5,744.3L673.4,739.3L672.4,734.2L668.4,732.2L666.4,728.2L668.4,723.2Z"/>
<path fill="#123a7e" d="M721.6,727.2L723.6,726.2L725.6,732.2L725.6,739.3L723.6,744.3L721.6,754.3L718.6,764.3L715.6,772.4L710.6,776.4L706.6,775.4L704.5,768.4L703.5,762.3L706.6,756.3L706.6,748.3L708.6,742.3L714.6,739.3L718.6,734.2L720.6,730.2Z"/>
<path fill="#123a7e" d="M738.7,631.6L740.7,631.6L740.7,632.8L738.7,632.8Z"/>
<path fill="#9fc8f5" stroke="rgba(255,255,255,0.55)" stroke-width="0.78" d="M674.1,551.6L677.1,545.1L678.1,540L679.1,535L680.1,531L684.1,532L690.1,533L697.2,534L698.2,535L697.2,540L694.1,545.1L689.1,548.1L691.1,551.1L696.2,555.1L702.2,559.1L707.2,563.1L711.2,564.6L715.2,563.1L716.2,563.1L720.2,570.1L724.2,575.2L727.3,580.2L730.3,585.2L733.3,586.2L733.8,589.2L736.3,591.2L742.3,591.2L743.3,591.2L744.8,595.2L742.3,602.2L737.3,608.3L734.3,611.3L732.3,607.3L726.3,608.3L720.2,610.3L716.2,614.3L711.2,613.8L706.2,614.3L701.7,617.3L698.2,613.3L694.1,607.3L690.1,600.2L688.1,594.2L684.1,587.2L680.1,580.2L676.6,572.1L675.9,565.1L675.1,559.1Z"/>
<path fill="#1b86ea" stroke="rgba(255,255,255,0.55)" stroke-width="0.78" d="M689.1,548.1L694.1,545.1L697.2,540L698.2,535L702.2,532.5L707.2,533L710.2,537L711.2,542L714.2,549.1L717.2,555.1L718.2,560.1L716.2,563.1L715.2,563.1L711.2,564.6L707.2,563.1L702.2,559.1L696.2,555.1L691.1,551.1Z"/>
<path fill="#123a7e" stroke="rgba(255,255,255,0.55)" stroke-width="0.78" d="M701.7,617.3L706.2,614.3L711.2,613.8L716.2,614.3L720.2,610.3L726.3,608.3L732.3,607.3L734.3,611.3L735.3,615.8L732.3,618.3L726.3,622.3L720.2,625.3L714.2,628.3L706.2,630.8L704.2,630.3L703.2,626.3Z"/>
<path fill="#9fc8f5" stroke="rgba(255,255,255,0.55)" stroke-width="0.78" d="M747.8,581.2L750.3,586.2L755.4,590.2L758.2,593.2L755.4,598.2L751.3,604.2L745.3,610.3L740.3,614.3L735.3,615.8L734.3,611.3L737.3,608.3L742.3,602.2L744.8,595.2L743.3,591.2L744.3,588.2Z"/>
<path fill="#1b86ea" stroke="rgba(255,255,255,0.55)" stroke-width="0.78" d="M716.2,474.1L724.2,468.1L734.2,466.1L744.3,470.1L754.3,469.1L762.3,468.1L765.4,464.1L764.3,455.1L774.4,452L788.4,447L798.5,450L800.5,454L808.5,455.1L814.5,453L820.5,458.1L826.6,466.1L832.6,470.1L840.6,471.1L849.6,477.1L845.6,480.1L844.6,487.2L836.6,488.2L834.6,494.2L828.6,496.2L827.6,500.2L828.6,506.2L820.5,506.2L810.5,505.2L802.5,506.2L796.5,509.2L790.4,514.2L784.4,515.3L778.4,511.2L774.4,506.2L768.4,504.2L764.3,502.2L758.3,506.2L752.3,508.2L748.3,510.2L746.3,514.2L740.3,510.2L735.3,508.2L733.2,500.2L728.2,498.2L730.2,494.2L736.3,492.2L734.2,489.2L729.2,488.2L724.2,490.2L720.2,487.2L717.2,480.1Z"/>
<path fill="#1b86ea" stroke="rgba(255,255,255,0.55)" stroke-width="0.78" d="M748.3,510.2L752.3,508.2L758.3,506.2L764.3,502.2L768.4,504.2L774.4,506.2L778.4,511.2L784.4,515.3L788.4,517.3L792.4,514.2L798.5,513.2L800.5,516.3L794.4,519.3L790.4,520.3L788.4,524.3L785.4,529.3L780.4,528.3L778.4,524.3L774.4,520.3L769.4,516.3L764.3,514.2L760.3,512.2L756.3,509.2L752.3,512.2L749.3,513.2L746.3,514.2Z"/>
<path fill="#9fc8f5" stroke="rgba(255,255,255,0.55)" stroke-width="0.78" d="M734.2,509.2L740,511.7L748.3,513.3L753.3,507.5L758.3,510L766.7,515L773.3,520L780,525L784.2,529.2L778.3,532L771.7,535.3L765.8,539.7L762.5,537L756.7,531.2L750,528.7L741.7,528.7L737.5,525L735.8,516.7Z"/>
<path fill="#1b86ea" d="M773.3,520L780,518.3L788.3,521.7L793.3,528.3L790.8,533.3L784.2,533.3L784.2,529.2L780,525Z"/>
<path fill="#9fc8f5" stroke="rgba(255,255,255,0.55)" stroke-width="0.78" d="M790.4,514.2L796.5,509.2L802.5,506.2L810.5,505.2L820.5,506.2L828.6,506.2L824.5,511.2L818.5,513.2L813.5,517.3L808.5,519.3L802.5,518.3L800.5,516.3L798.5,513.2L792.4,514.2Z"/>
<path fill="#1b86ea" stroke="rgba(255,255,255,0.55)" stroke-width="0.78" d="M788.4,524.3L790.4,520.3L794.4,519.3L800.5,516.3L804.5,520.3L809.5,522.3L810.5,528.3L804.5,529.3L800.5,531.3L796.5,528.3L792.4,529.3L789.4,528.3Z"/>
<path fill="#123a7e" stroke="rgba(255,255,255,0.55)" stroke-width="0.78" d="M762.3,545.4L764.3,540.3L769.4,538.3L775.4,534.3L780.4,531.3L785.4,532.3L789.4,529.3L792.4,530.3L796.5,528.3L800.5,531.3L804.5,529.7L798.5,534.3L796.5,538.3L798.5,540.3L794.4,544.3L790.4,549.4L788.4,553.4L782.4,555.4L778.4,560.4L772.4,562.4L764.3,562.4L765.4,556.4L762.3,552.4Z"/>
<path fill="#1b86ea" stroke="rgba(255,255,255,0.55)" stroke-width="0.78" d="M765.4,563.4L772.4,562.8L778.4,560.8L782.8,555.8L788.8,553.8L790.8,549.8L794.8,544.7L798.9,540.7L797.5,535.3L802.5,533.3L809.5,534.3L811.5,538.3L808.5,542.3L809.5,546.4L807.5,552.4L808.5,556.4L805.5,562.4L800.5,566.4L794.4,570.4L791.4,576.5L794.4,582.5L791.4,585.5L785.4,584.5L782.4,580.5L772.4,580.5L766.4,580.5L769.4,576.5L770.4,570.4L766.4,567.4Z"/>
<path fill="#9fc8f5" stroke="rgba(255,255,255,0.55)" stroke-width="0.78" d="M809.5,534.3L812.5,532.3L818.5,536.3L820.5,540.3L826.6,542.3L826.6,548.4L824.5,553.4L830.6,558.4L836.6,562.4L844.6,566.4L854.6,570.4L858.7,572.4L860.7,568.4L868.7,570.4L874.7,568.4L880.7,564.4L886.8,568.4L888.8,574.4L884.7,580.5L880.7,586.5L876.7,592.5L872.7,588.5L868.7,584.5L868.7,592.5L862.7,592.5L857.7,594.5L852.6,592.5L847.6,600.5L842.6,606.6L836.6,611.6L830.6,617.6L827.6,624.6L826.6,632.6L823.5,640.7L820.5,645.7L816.5,642.7L812.5,632.6L808.5,620.6L804.5,608.6L802.5,598.5L801.5,592.5L796.5,596.5L790.4,592.5L790.4,587.5L794.4,583.5L791.4,577.5L794.8,570.8L800.9,566.8L805.9,562.8L808.9,556.8L807.9,552.8L809.9,546.8L808.9,542.7L811.9,538.7Z"/>
<path fill="#f9aaaa" d="M858.7,571.4L864.7,570.8L865.1,574L859.1,574.8Z"/>
<path fill="#9fc8f5" d="M827.6,644.7L830.6,643.7L832.6,649.7L830.6,655.7L827.6,653.7L827,648.7Z"/>
<path fill="#9fc8f5" stroke="rgba(255,255,255,0.55)" stroke-width="0.78" d="M855,478.3L860.5,472.1L870.6,469.5L880.6,472.1L886.9,467L891.9,463.3L898.2,467L908.2,470.8L920.7,473.3L933.3,474.6L940.8,472.1L948.3,473.3L950.8,478.3L954.6,482.1L960.9,485.9L958.4,489.6L948.3,490.9L940.8,494.6L935.8,500.9L925.8,505.9L913.2,509.7L900.7,507.2L888.1,505.9L880.6,500.9L870.6,498.4L864.3,493.4L863,485.9L858,482.1Z"/>
<path fill="#f5f7fb" d="M869.1,470.3L871.1,470.3L871.1,472.3L869.1,472.3Z"/>
<path fill="#f5f7fb" d="M753.9,495.9L758.9,490.9L764.7,492.1L764,498.4L760.2,502.2L755.2,500.9Z"/>
<path fill="#f5f7fb" d="M805.4,493.4L811.6,489.6L822.9,488.4L824.2,490.9L812.9,492.9L807.9,496.4Z"/>
<path fill="#9fc8f5" stroke="rgba(255,255,255,0.55)" stroke-width="0.78" d="M868.8,592.7L865,582.6L860,577.6L860,570.1L865,570.1L872.5,566.3L878.8,565.1L885.1,568.8L886.3,575.1L890.1,577.6L887.6,583.9L891.4,590.2L897.6,598.9L892.6,602.7L887.6,607.7L886.3,615.3L888.8,622.8L890.1,633.3L887.6,630.3L885.1,620.8L881.6,615.8L878.1,613.2L875.6,607.7L872.5,600.2Z"/>
<path fill="#9fc8f5" stroke="rgba(255,255,255,0.55)" stroke-width="0.78" d="M897.6,598.9L901.4,596.4L903.9,602.7L908.9,606.5L911.4,612.7L916.4,620.3L918.9,626.5L915.2,627.8L911.4,624L910.2,617.8L906.4,612.7L901.4,610.2L897.6,605.2Z"/>
<path fill="#9fc8f5" stroke="rgba(255,255,255,0.55)" stroke-width="0.78" d="M904.6,630.3L908.2,626.5L911.9,624.5L915.7,628.3L919.4,627L920.2,632.8L913.9,637.8L908.9,638.3L905.2,635.3Z"/>
<path fill="#d42a1c" d="M932.7,587.7L936,587.7L936,598.2L932.7,598.2Z"/>
<path fill="#ee301e" d="M937.8,585.7L949,585.7L949,597.2L937.8,597.2Z"/>
<path fill="#f9aaaa" d="M903.1,668.4L913.7,668.4L913.7,679.5L903.1,679.5Z"/>
<path fill="#f9aaaa" d="M924.7,604L929,602.7L930.7,605.7L927.2,608.2L924.7,607.2Z"/>
<path fill="#fbe4e6" d="M964.8,583.9L968.4,581.4L969.1,588.9L966.6,593.9Z"/>
<path fill="#9fc8f5" d="M879.1,659.1L886.6,659.9L896.6,671.7L903.4,681.7L913.4,690L915.7,700.5L911.4,702.5L906.7,700L900.1,690L891.6,680L885.1,669.9L880.1,663.4Z"/>
<path fill="#9fc8f5" d="M916.4,703L925.2,704.3L935.3,706.8L945.3,709.3L955.3,711.1L960.3,713.1L952.8,713.6L940.3,711.8L927.7,709.3L917.7,706.8Z"/>
<path fill="#f9aaaa" d="M932.7,671.7L940.3,665.4L946.5,661.7L950.3,655.4L955.3,656.6L956.6,660.4L951.6,662.9L946.5,665.4L940.3,670.4L935.3,674.2Z"/>
<path fill="#9fc8f5" d="M925.7,675.5L932.7,672.4L935.3,674.2L940.3,670.4L946.5,665.4L951.6,662.9L955.3,664.2L954.1,672.9L956.6,678L951.6,685.5L947.8,693L940.3,691.8L932.7,690.5L929,684.2L925.7,679.2Z"/>
<path fill="#c4dcf6" d="M960.3,684.2L964.1,683L965.4,675.5L970.4,676.7L977.9,675.5L970.4,679.2L967.9,685.5L970.4,693L967.9,698L965.4,690.5L962.8,695.5L960.3,690.5Z"/>
<path fill="#f9cfd1" d="M964.1,610.2L969.1,607.7L970.4,615.3L967.9,622.8L971.6,627.8L975.4,631.6L970.4,632.8L966.6,627.8L964.1,620.3Z"/>
<path fill="#f9cfd1" d="M972.9,635.3L980.4,632.8L982.9,640.3L979.1,642.8Z"/>
<path fill="#f9aaaa" d="M976.6,647.9L982.9,644.1L984.2,651.6L980.4,656.6L976.6,654.1Z"/>
<path fill="#f9cfd1" d="M956.6,645.4L962.8,639.1L964.1,640.3L957.8,646.6Z"/>
<path fill="#9fc8f5" d="M1000.8,684.2L1005,681.3L1010,683.3L1010.8,688.3L1016.7,690L1021.7,686.7L1028.3,686.7L1033.7,690L1033.7,713.3L1028.3,710L1025,706.7L1020,701.7L1015,696.7L1010,695L1005.8,690.8L1006.7,688.3L1001.7,686.7Z"/>
<path fill="#1b86ea" d="M1033.7,690L1040,691.7L1046.7,695.8L1051.7,700L1055.8,703.3L1053.3,705.8L1056.7,710L1061.7,715L1064.2,718.3L1060,717.5L1055,713.3L1050,710.8L1045,711.7L1040,713.3L1033.7,713.3Z"/>
<path fill="#1b86ea" d="M1060,700L1065,699.2L1069.2,696.7L1071.7,695L1070.8,699.2L1066.7,702.5L1061.7,703Z"/>
<path fill="#f9c4c5" d="M963.7,609.2L969.2,608.3L970,615.8L967.5,621.7L968.3,626.7L965,625.8L963,618.3Z"/>
<path fill="#9cc0e4" d="M1079.5,702L1082,703L1082.2,704.3L1080,703.3Z"/>
<path fill="#9cc0e4" d="M1089.5,709.6L1092,710.6L1092.3,711.8L1090,710.8Z"/>
<path fill="#9cc0e4" d="M1097,714.6L1099.5,715.6L1099.8,716.8L1097.5,715.8Z"/>
<path fill="#9cc0e4" d="M1103.3,717.6L1105.8,718.6L1106.1,719.8L1103.8,718.8Z"/>
<path fill="#f9aaaa" d="M942.5,770L945,763.3L953.3,758.3L961.7,755.8L968.3,750L971.7,744.2L976.7,743.3L981.7,737.5L986.7,734.2L990,735.8L995,735L998.3,730L1001.7,726.7L1006.7,725L1013.3,726.3L1018.3,725.8L1016.7,730.8L1015,735.8L1021.7,741.7L1028.3,745.8L1033.3,747.5L1035.8,738.3L1036.7,728.3L1038.3,721.7L1040.8,730L1044.2,736.7L1047.5,741.7L1050,749.2L1055,754.2L1060,761.7L1065,766.7L1069.2,773.3L1073.3,781.7L1075,790L1073.3,800L1070,810L1066.7,820L1063.3,828.3L1056.7,830.8L1051.7,833.3L1043.3,830L1036.7,829.2L1030,823.3L1026.7,816.7L1023.3,810L1020,815L1016.7,814.2L1014.2,808.3L1010,803.3L1003.3,801.7L995,801.7L986.7,803.3L978.3,806.7L973.3,810.8L965,813.3L955,815.8L946.7,814.2L947.5,808.3L945.8,798.3L943.3,788.3L941.7,778.3Z"/>
<path fill="#f9aaaa" d="M1046.2,844.4L1056.8,843.1L1055.5,849.4L1051.8,853.6L1048,849.4Z"/>
<path fill="#2c5da0" d="M1157.4,746.8L1159.4,746.8L1159.4,748.8L1157.4,748.8Z"/>
<path fill="#f7a3a2" d="M1142.9,817.1L1145,818.8L1146.7,823.3L1149.2,826.7L1151.7,828.8L1154.2,830.8L1157.5,830L1159.6,828.3L1158.8,832.1L1156.7,835L1154.6,839.2L1152.1,842.5L1150,845L1149.2,842.1L1147.9,838.3L1146.2,835.8L1147.5,833.3L1147.1,828.3L1145.4,822.5Z"/>
<path fill="#f7a3a2" d="M1139.2,843.3L1141.7,843.8L1145,845.4L1144.2,848.3L1141.2,851.7L1138.3,855.4L1135.8,858.3L1134.2,862.5L1132.5,866.2L1129.2,869.2L1125,867.9L1121.2,866.2L1122.9,862.5L1125.8,858.3L1130,855L1134.2,851.7L1136.7,847.5Z"/>
<path fill="none" stroke="rgba(255,255,255,0.6)" stroke-width="0.8" d="M80.3,360.4L80.3,418.1"/>
<path fill="none" stroke="rgba(255,255,255,0.6)" stroke-width="0.8" d="M80.3,418.1L87.8,419.9L96.6,422.6L105.4,433.7L111.6,445.7L117.9,457"/>
<path fill="none" stroke="rgba(255,255,255,0.6)" stroke-width="0.8" d="M137.6,478.3L235.5,478.3L245.5,483.8L260.5,488.1L273.1,491.3L280.6,497.6L286.9,501.4L298.2,500.1L305.7,497.1L312,495.1L320.7,490.1L330.8,485.1L340.8,483.8L347.1,480"/>
<path fill="none" stroke="rgba(255,255,255,0.6)" stroke-width="0.8" d="M161.5,551.5L175.3,556.5L189,555.3L199.1,560.3L206.6,566.6L211.6,564.1L217.9,570.3L224.2,579.1"/>
<path fill="none" stroke="rgba(255,255,255,0.6)" stroke-width="0.8" d="M244.2,620.5L246.7,613L253,611L256,610.5"/>
<path fill="none" stroke="rgba(255,255,255,0.6)" stroke-width="0.8" d="M320.3,750.4L321.6,760.4L325.4,765.4L323.3,780.5L320.3,800.5L317.8,820.6L314.8,840.7L313.3,860.7L312.8,880.8L316.6,895.9L322.8,903.4"/>
<path fill="none" stroke="rgba(255,255,255,0.6)" stroke-width="0.8" d="M327.9,766.7L337.9,765.4L345.4,765.4"/>
<path fill="none" stroke="rgba(255,255,255,0.6)" stroke-width="0.8" d="M360.5,784.2L365.5,790.5L361.7,799.3L370.5,800.5L376.8,805.6"/>
<path fill="none" stroke="rgba(255,255,255,0.6)" stroke-width="0.8" d="M361.7,799.3L360,806.8L361.7,813.1"/>
<path fill="none" stroke="rgba(255,255,255,0.6)" stroke-width="0.8" d="M295.3,648.8L300.3,660.1L292.7,673.9"/>
<path fill="none" stroke="rgba(255,255,255,0.6)" stroke-width="0.8" d="M292.7,673.9L300.3,680.1L301.5,685.2"/>
<path fill="none" stroke="rgba(255,255,255,0.6)" stroke-width="0.8" d="M313.2,636.1L312,645.6L314.5,653.1L320.7,655.6L327,663.1L329.5,673.2"/>
<path fill="none" stroke="rgba(255,255,255,0.6)" stroke-width="0.8" d="M329.5,673.2L320.7,675.7L319.5,688.2L315.7,693.2"/>
<path fill="none" stroke="rgba(255,255,255,0.55)" stroke-width="0.8" d="M533.1,506.6L532.1,514.6L530.1,522.6L532.1,530.7L534.1,533.1"/>
<path fill="none" stroke="rgba(255,255,255,0.55)" stroke-width="0.8" d="M554.2,504.6L560.2,506.6L566.2,508.6"/>
<path fill="none" stroke="rgba(255,255,255,0.55)" stroke-width="0.8" d="M569.2,466.5L574.2,470.5L580.3,474.5L579.3,482.5L582.3,486.5"/>
<path fill="none" stroke="rgba(255,255,255,0.55)" stroke-width="0.8" d="M580.3,488.5L579.3,494.5L582.3,500.6"/>
<path fill="none" stroke="rgba(255,255,255,0.55)" stroke-width="0.8" d="M580.3,452.4L581.3,460.4L579.3,466.5L574.2,470.5"/>
<path fill="none" stroke="rgba(255,255,255,0.55)" stroke-width="0.8" d="M605.4,450.4L606.4,460.4L605.4,468.5"/>
<path fill="none" stroke="rgba(255,255,255,0.55)" stroke-width="0.8" d="M582.3,474.5L590.3,473.5L600.3,470.5L605.4,468.5L612.4,470.5L618.4,474.5"/>
<path fill="none" stroke="rgba(255,255,255,0.55)" stroke-width="0.8" d="M605.4,468.5L616.4,474.5L628.4,476.5L636.5,474.5"/>
<path fill="none" stroke="rgba(255,255,255,0.55)" stroke-width="0.8" d="M636.5,450.4L638.5,462.4L636.5,474.5"/>
<path fill="none" stroke="rgba(255,255,255,0.55)" stroke-width="0.8" d="M628.4,448.4L636.5,450.4L644.5,448.4L648.5,442.4"/>
<path fill="none" stroke="rgba(255,255,255,0.55)" stroke-width="0.8" d="M630.4,442.4L644.5,444.4L648.5,438.4L650.5,430.3L649.5,424.3"/>
<path fill="none" stroke="rgba(255,255,255,0.55)" stroke-width="0.8" d="M632.4,433.3L640.5,435.4L648.5,438.4"/>
<path fill="none" stroke="rgba(255,255,255,0.55)" stroke-width="0.8" d="M656.5,421.3L660.5,406.3L658.5,390.2L654.5,376.2L656.5,362.1L658.5,355.1"/>
<path fill="none" stroke="rgba(255,255,255,0.55)" stroke-width="0.8" d="M596.3,430.3L598.3,416.3L604.3,400.2L612.4,384.2L624.4,372.1L636.5,364.1"/>
<path fill="none" stroke="rgba(255,255,255,0.55)" stroke-width="0.8" d="M638.5,386.2L636.5,374.1L636.5,364.1L644.5,360.1L652.5,358.1L658.5,355.1"/>
<path fill="none" stroke="rgba(255,255,255,0.55)" stroke-width="0.8" d="M649.5,424.3L652.5,438.4L658.5,446.4L664.5,458.4L660.5,462.4"/>
<path fill="none" stroke="rgba(255,255,255,0.55)" stroke-width="0.8" d="M660.5,462.4L672.6,464.4L684.6,470.5L690.6,478.5L688.6,486.5L684.6,490.5"/>
<path fill="none" stroke="rgba(255,255,255,0.55)" stroke-width="0.8" d="M638.5,462.4L648.5,464.4L660.5,462.4"/>
<path fill="none" stroke="rgba(255,255,255,0.55)" stroke-width="0.8" d="M636.5,474.5L644.5,482.5L654.5,486.5L656.5,494.5"/>
<path fill="none" stroke="rgba(255,255,255,0.55)" stroke-width="0.8" d="M636.5,502.6L644.5,500.6L652.5,502.6"/>
<path fill="none" stroke="rgba(255,255,255,0.55)" stroke-width="0.8" d="M612.4,482.5L620.4,480.5L630.4,482.5L636.5,474.5"/>
<path fill="none" stroke="rgba(255,255,255,0.55)" stroke-width="0.8" d="M582.3,486.5L590.3,488.5L600.3,490.5L608.4,488.5L612.4,482.5"/>
<path fill="none" stroke="rgba(255,255,255,0.55)" stroke-width="0.8" d="M590.3,488.5L588.3,494.5L592.3,498.6"/>
<path fill="none" stroke="rgba(255,255,255,0.55)" stroke-width="0.8" d="M600.3,470.5L602.3,478.5L612.4,482.5"/>
<path fill="none" stroke="rgba(255,255,255,0.55)" stroke-width="0.8" d="M608.4,496.6L616.4,496.6L624.4,500.6L632.4,498.6L636.5,502.6"/>
<path fill="none" stroke="rgba(255,255,255,0.55)" stroke-width="0.8" d="M620.4,510.6L628.4,510.6L636.5,510.6L646.5,509.6"/>
<path fill="none" stroke="rgba(255,255,255,0.55)" stroke-width="0.8" d="M616.4,496.6L620.4,504.6L620.4,510.6"/>
<path fill="none" stroke="rgba(255,255,255,0.55)" stroke-width="0.8" d="M630.4,482.5L632.4,490.5L632.4,498.6"/>
<path fill="none" stroke="rgba(255,255,255,0.55)" stroke-width="0.8" d="M700.7,510.6L704.7,518.6L702.7,528.7L700.7,534.7"/>
<path fill="none" stroke="rgba(255,255,255,0.55)" stroke-width="0.8" d="M686.6,502.6L698.7,506.6L708.7,510.6L716.7,516.6"/>
<path fill="none" stroke="rgba(255,255,255,0.55)" stroke-width="0.8" d="M700.7,510.6L708.7,514.6L714.7,522.6L722.7,522.6"/>
<path fill="none" stroke="rgba(255,255,255,0.55)" stroke-width="0.8" d="M676.6,535.7L690.6,536.7L700.7,534.7"/>
<path fill="none" stroke="rgba(255,255,255,0.55)" stroke-width="0.8" d="M975.3,521.3L981.5,518.3L987.8,518.8"/>
<path fill="none" stroke="rgba(255,255,255,0.55)" stroke-width="0.8" d="M1160.9,280L1160.9,280"/>
<path fill="none" stroke="rgba(255,255,255,0.6)" stroke-width="0.8" d="M648.4,794.4L651.4,791.4L655.4,792L656.4,795.5L652.4,798.5L649.4,797.5L648.4,794.4"/>
<path fill="none" stroke="rgba(255,255,255,0.6)" stroke-width="0.8" d="M661.4,780.4L664,780L664.8,782.8L662,783.6L661.4,780.4"/>
<path fill="none" stroke="rgba(165,192,240,0.8)" stroke-width="1.15" d="M503.1,594.2L513.1,590.2L515.1,580.2L527.2,578.2L528.2,576.2L535.2,581.2L535.2,584.2L537.2,619.3L517.1,620.3L512.1,616.3L502.1,615.3"/>
<path fill="none" stroke="rgba(165,192,240,0.8)" stroke-width="1.15" d="M535.2,584.2L540.2,584.2"/>
<path fill="none" stroke="rgba(165,192,240,0.8)" stroke-width="1.15" d="M569.3,606.3L569.3,618.3L560.3,622.3L554.2,624.3L548.2,626.4L542.2,632.4L538.2,638.4L530.2,640.4L527.2,633.4L518.1,632.4L517.1,620.3"/>
<path fill="none" stroke="rgba(165,192,240,0.8)" stroke-width="1.15" d="M505.1,632.4L510.1,631.4L518.1,631.4L527.2,633.4"/>
<path fill="none" stroke="rgba(165,192,240,0.8)" stroke-width="1.15" d="M530.2,640.4L528.2,648.4L523.1,650.4L520.1,644.4L516.1,642.4L513.1,646.4"/>
<path fill="none" stroke="rgba(165,192,240,0.8)" stroke-width="1.15" d="M523.1,650.4L528.2,652.4L530.2,660.5"/>
<path fill="none" stroke="rgba(165,192,240,0.8)" stroke-width="1.15" d="M538.2,638.4L542.2,641.4L546.2,640.4L546.2,658.5"/>
<path fill="none" stroke="rgba(165,192,240,0.8)" stroke-width="1.15" d="M546.2,640.4L548.2,637.4L556.3,636.4L562.3,634.4L564.3,628.4L560.3,622.3"/>
<path fill="none" stroke="rgba(165,192,240,0.8)" stroke-width="1.15" d="M558.7,637.4L559.3,656.9"/>
<path fill="none" stroke="rgba(165,192,240,0.8)" stroke-width="1.15" d="M562.7,636L563.1,656.5"/>
<path fill="none" stroke="rgba(165,192,240,0.8)" stroke-width="1.15" d="M562.7,636L566.3,632.4L568.3,632.4"/>
<path fill="none" stroke="rgba(165,192,240,0.8)" stroke-width="1.15" d="M567.3,642.4L566.7,656.5"/>
<path fill="none" stroke="rgba(165,192,240,0.8)" stroke-width="1.15" d="M568.3,632.4L572.3,628.4L580.3,630.4L592.4,629.4L600.4,629.4L603.4,633.4L600.4,642.4L594.4,650.4L589.4,656.5L586.4,662.5"/>
<path fill="none" stroke="rgba(165,192,240,0.8)" stroke-width="1.15" d="M567.3,642.4L569.3,634.4L568.3,632.4"/>
<path fill="none" stroke="rgba(165,192,240,0.8)" stroke-width="1.15" d="M604.4,590.2L608.4,591.2L610.4,604.3L608.4,614.3L602.4,624.3L600.4,629.4"/>
<path fill="none" stroke="rgba(165,192,240,0.8)" stroke-width="1.15" d="M636.5,603.3L636.5,618.3L631.5,628.4L634.5,638.4L629.5,640.4L620.5,645.4L612.4,648.4L608.4,644.4L605.4,638.4L606.4,632.4L603.4,629.4"/>
<path fill="none" stroke="rgba(165,192,240,0.8)" stroke-width="1.15" d="M640.5,595.9L640.5,601.3L636.5,603.3"/>
<path fill="none" stroke="rgba(165,192,240,0.8)" stroke-width="1.15" d="M634.5,638.4L637.5,643.4"/>
<path fill="none" stroke="rgba(165,192,240,0.8)" stroke-width="1.15" d="M608.4,650.4L612.4,648.4"/>
<path fill="none" stroke="rgba(165,192,240,0.8)" stroke-width="1.15" d="M650.6,658.5L644.5,659.5L636.5,660.5L628.5,661.5L621.5,660.5L618.5,666.5L612.4,667.5L608.4,660.5L606.4,656.5L606.4,650.4L608.4,644.4"/>
<path fill="none" stroke="rgba(165,192,240,0.8)" stroke-width="1.15" d="M612.4,667.5L612.4,671.5L604.4,671.5"/>
<path fill="none" stroke="rgba(165,192,240,0.8)" stroke-width="1.15" d="M596.4,671.5L589.4,672.1"/>
<path fill="none" stroke="rgba(165,192,240,0.8)" stroke-width="1.15" d="M618.5,666.5L620.5,670.5L616.5,680.5L612.4,690.6L608.4,696.6L601.4,698.6L598.4,699.6"/>
<path fill="none" stroke="rgba(165,192,240,0.8)" stroke-width="1.15" d="M657.6,700.6L660.6,708.6L664.6,712.6"/>
<path fill="none" stroke="rgba(165,192,240,0.8)" stroke-width="1.15" d="M600.4,701.6L613.4,701.6L614.4,707.6L620.5,708.6L624.5,705.6L630.5,706.6L631.5,721.7L638.5,721.7L644.5,722.7L650.6,728.7L656.6,730.7L654.6,720.7L656.6,712.6L664.6,712.6L669.6,718.7"/>
<path fill="none" stroke="rgba(165,192,240,0.8)" stroke-width="1.15" d="M638.5,721.7L636.5,728.7L631.5,729.7L630.5,740.7L636.5,746.8"/>
<path fill="none" stroke="rgba(165,192,240,0.8)" stroke-width="1.15" d="M669.6,718.7L670.6,720.7L676.7,724.7L684.7,723.7L692.7,720.7"/>
<path fill="none" stroke="rgba(165,192,240,0.8)" stroke-width="1.15" d="M668.6,728.7L660.6,733.7L654.6,737.7L650.6,740.7L644.5,746.8"/>
<path fill="none" stroke="rgba(165,192,240,0.8)" stroke-width="1.15" d="M681.6,624.1L684.1,624.3L689.2,622.9L693.2,623.9L697.2,627.3L698.7,634.1L699.7,637.6L702.2,640.1L705.2,644.1L712.2,647.2L718.8,649.2L714.2,655.2L709.2,660.2L702.2,662.7L696.7,664.7"/>
<path fill="none" stroke="rgba(165,192,240,0.8)" stroke-width="1.15" d="M670.1,648.2L672.1,640.1L676.1,632.1L680.1,626.1L681.6,623.6"/>
<path fill="none" stroke="rgba(165,192,240,0.8)" stroke-width="1.15" d="M696.7,664.7L696.2,680.3L698.2,685.5"/>
<path fill="none" stroke="rgba(165,192,240,0.8)" stroke-width="1.15" d="M661.6,669.2L665.1,665.7"/>
<path fill="none" stroke="rgba(165,192,240,0.8)" stroke-width="1.15" d="M661.6,669.2L660.1,674.2L657.6,680.3L656.1,685.3"/>
<path fill="none" stroke="rgba(165,192,240,0.8)" stroke-width="1.15" d="M672.6,679.3L667.1,678.8L664.6,680.3"/>
<path fill="none" stroke="rgba(165,192,240,0.8)" stroke-width="1.15" d="M657.1,690.3L660.6,688.8L661.1,693.3L658.1,694.8"/>
<path fill="none" stroke="rgba(165,192,240,0.8)" stroke-width="1.15" d="M661.1,688.3L663.6,689.5"/>
<path fill="none" stroke="rgba(225,236,252,0.85)" stroke-width="1.4" d="M661.6,669.2L660.1,674.2L657.6,680.3L656.1,685.3L656.1,690.3L655.6,696.3L657.1,702.3L659.1,707.4L661.6,711.4L664.6,714.4"/>
<path fill="none" stroke="rgba(235,242,252,0.8)" stroke-width="1.2" d="M670.4,717.2L672.4,726.2L674.8,735.3"/>
<path fill="none" stroke="rgba(255,255,255,0.5)" stroke-width="0.8" d="M824.5,553.4L830.6,558.4L836.6,562.4L844.6,566.4L854.6,570.4L855.7,574.4L846.6,571.4L838.6,568.4L830.6,564.4L825.6,560.4L824.5,553.4"/>
<path fill="none" stroke="rgba(255,255,255,0.5)" stroke-width="0.8" d="M858.7,580.5L868.7,578.5L869.7,584.5L868.7,592.5"/>
<path fill="none" stroke="rgba(255,255,255,0.7)" stroke-width="1.1" d="M960.2,486.9L950.2,480.7L953.9,473.1L961.5,470.6L964,459.3L969,456.8L977.8,460.6L985.3,470.6L995.3,478.2L1002.8,483.2L1010.4,480.7L1007.9,490.7L1002.8,495.7L1000.3,507"/>
</svg>
<div id="bar"></div>
<svg id="txt" width="1200" height="1196" viewBox="0 0 1200 1196" style="position:absolute;left:0;top:0" font-family="Liberation Sans, sans-serif">
 <text x="64.5" y="115.8" font-size="70.7" font-weight="bold" fill="#14284a" textLength="943" lengthAdjust="spacing">The State of Global Fertility</text>
 <text x="65.2" y="184.7" font-size="40.5" fill="#46566e" textLength="942" lengthAdjust="spacing">Fertility rate by country in 2023 (births per woman)</text>
 <g font-size="27.5" fill="#1c2536" transform="translate(60.3,0) scale(1.1,1)">
  <text x="0" y="803" textLength="185.6" lengthAdjust="spacing">4.0 and higher</text>
  <text x="0" y="850.3" textLength="94.5" lengthAdjust="spacing">3.0 - 3.9</text>
  <text x="0" y="897.6" textLength="94.5" lengthAdjust="spacing">2.0 - 2.9</text>
  <text x="0" y="944.9" textLength="91.5" lengthAdjust="spacing">1.0 - 1.9</text>
  <text x="0" y="992.2" textLength="125.5" lengthAdjust="spacing">Below 1.0</text>
 </g>
 <text transform="translate(19.5,1072.1) scale(1.05,1)" font-size="25.1" fill="#4a5565" textLength="222" lengthAdjust="spacing">Source: World Bank</text>
</svg>
<div class="lg" style="top:780px;background:#123a7e"></div>
<div class="lg" style="top:827.3px;background:#1b86ea"></div>
<div class="lg" style="top:874.6px;background:#9fc8f5"></div>
<div class="lg" style="top:921.9px;background:#f9aaaa"></div>
<div class="lg" style="top:969.2px;background:#ee301e"></div>

<svg style="position:absolute;left:0;top:1100px" width="260" height="96" viewBox="0 1100 260 96">
 <g fill="none" stroke="#c6cfdc" stroke-width="6">
  <circle cx="49.5" cy="1146" r="26.5"/><circle cx="123" cy="1146" r="26.5"/><circle cx="197" cy="1146" r="26.5"/>
 </g>
 <text x="49.6" y="1156.3" text-anchor="middle" font-family="Liberation Sans, sans-serif" font-weight="bold" font-size="35" fill="#c6cfdc" letter-spacing="-2.5">cc</text>
 <g fill="#c6cfdc">
  <circle cx="123" cy="1130.5" r="4"/>
  <path d="M115,1137h16v15h-3.5v14h-9v-14H115z"/>
  <rect x="186" y="1139.5" width="22" height="4.5"/><rect x="186" y="1149" width="22" height="4.5"/>
 </g>
</svg>

<svg style="position:absolute;left:840px;top:1090px" width="360" height="106" viewBox="840 1090 360 106">
 <g transform="translate(865.5,1175.5) scale(0.70,1)">
  <text x="0" y="0" font-family="Liberation Sans, sans-serif" font-weight="bold" font-size="86" fill="#14284a" stroke="#14284a" stroke-width="2.6" stroke-linejoin="round" textLength="323" lengthAdjust="spacing">statista</text>
 </g>
 <g transform="translate(1110,1117)">
  <rect width="60" height="59.5" rx="1.2" fill="#13284a"/>
  <path d="M-1,39.6 C14,39.6 19,33 26,21 C33,10 40,5.8 61,5.8 L61,19.6 C47,19.6 43,26 36,36 C28,48 20,52.9 -1,52.9 Z" fill="#f5f7fb"/>
 </g>
</svg>
</body>
</html>
